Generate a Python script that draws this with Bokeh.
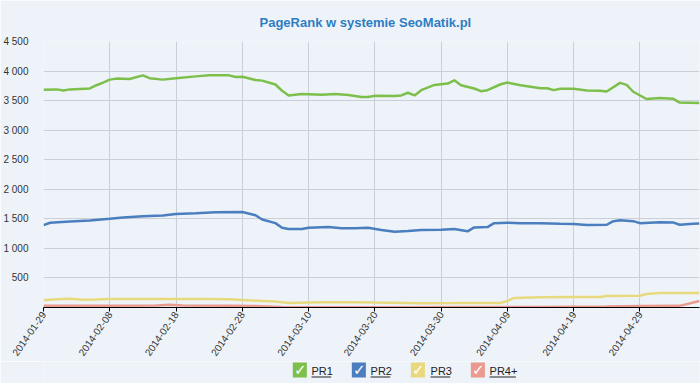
import math
import pandas as pd
from bokeh.plotting import figure
from bokeh.layouts import column
from bokeh.models import FixedTicker, DatetimeTickFormatter, Range1d
from bokeh.core.properties import value
from bokeh.embed import file_html
from bokeh.resources import INLINE

# ---------------- data ----------------
start_date = "2014-01-29"
end_day = 99

pr1_days = [0, 2, 3, 4, 7, 8, 9, 10, 11, 13, 15, 16, 18, 20, 23, 25, 28, 29, 30, 32,
            33, 35, 36, 37, 39, 42, 44, 46, 48, 49, 50, 53, 54, 55, 56, 57, 59, 61, 62, 63,
            65, 66, 67, 69, 70, 72, 75, 76, 77, 78, 80, 82, 84, 85, 87, 88, 89, 91, 93, 95,
            96, 99]
pr1_vals = [3683, 3690, 3672, 3690, 3705, 3760, 3805, 3855, 3872, 3866, 3927, 3880, 3855,
            3877, 3910, 3927, 3927, 3900, 3905, 3850, 3838, 3772, 3667, 3588, 3611, 3600,
            3611, 3594, 3561, 3561, 3583, 3577, 3588, 3633, 3588, 3677, 3766, 3788, 3844,
            3760, 3705, 3660, 3677, 3777, 3805, 3760, 3710, 3710, 3677, 3700, 3700, 3672,
            3667, 3655, 3800, 3766, 3650, 3527, 3544, 3533, 3466, 3460]

pr2_days = [0, 1, 4, 7, 10, 12, 15, 18, 20, 23, 26, 30, 32, 33, 35, 36, 37, 39, 40, 43,
            45, 47, 49, 51, 53, 55, 57, 60, 62, 64, 65, 67, 68, 70, 72, 75, 78, 80, 82, 85,
            86, 87, 89, 90, 93, 95, 96, 98, 99]
pr2_vals = [1394, 1433, 1455, 1472, 1500, 1522, 1544, 1555, 1583, 1594, 1611, 1616, 1561,
            1489, 1427, 1350, 1327, 1327, 1350, 1361, 1339, 1339, 1350, 1311, 1283, 1294,
            1311, 1316, 1327, 1289, 1355, 1361, 1427, 1433, 1427, 1427, 1416, 1411, 1394,
            1400, 1461, 1477, 1461, 1427, 1444, 1439, 1400, 1416, 1422]

pr3_days = [0, 2, 4, 6, 8, 10, 15, 20, 25, 28, 30, 33, 35, 37, 40, 42, 47, 50, 57, 62,
            66, 69, 70, 71, 75, 80, 84, 85, 90, 91, 93, 99]
pr3_vals = [122, 140, 150, 130, 135, 144, 144, 144, 144, 140, 128, 111, 100, 78, 85, 89,
            89, 83, 72, 75, 78, 78, 111, 161, 172, 178, 178, 194, 200, 228, 244, 244]

pr4_days = [0, 10, 17, 19, 21, 28, 32, 36, 45, 55, 65, 75, 85, 90, 96, 99]
pr4_vals = [30, 30, 35, 45, 35, 30, 25, 10, 5, 5, 8, 10, 15, 25, 28, 110]

series_names = ["PR1", "PR2", "PR3", "PR4+"]
series_colors = ["#7cbf4b", "#4a7ebf", "#e9d97e", "#ea9a8e"]

x_tick_dates = ["2014-01-29", "2014-02-08", "2014-02-18", "2014-02-28", "2014-03-10",
                "2014-03-20", "2014-03-30", "2014-04-09", "2014-04-19", "2014-04-29"]
y_ticks = [500, 1000, 1500, 2000, 2500, 3000, 3500, 4000, 4500]
y_tick_labels = ["500", "1 000", "1 500", "2 000", "2 500", "3 000", "3 500", "4 000", "4 500"]

title_text = "PageRank w systemie SeoMatik.pl"

# ---------------- main figure ----------------
BG = "#eef3f9"
W = 700
MAIN_H = 361
LEG_H = 22
t0 = pd.Timestamp(start_date)


def to_dates(days):
    return [t0 + pd.Timedelta(days=d) for d in days]


p = figure(width=W, height=MAIN_H, output_backend="svg", toolbar_location=None,
           x_axis_type="datetime",
           x_range=Range1d(t0, t0 + pd.Timedelta(days=end_day)),
           y_range=Range1d(0, 4500),
           background_fill_color=BG, border_fill_color=BG,
           min_border_left=39, min_border_right=1, min_border_top=38,
           min_border_bottom=53)
p.outline_line_color = None

p.title.text = title_text
p.title.align = "left"
p.title.offset = 216
p.title.text_font = "Liberation Sans"
p.title.text_font_size = "13px"
p.title.text_font_style = "bold"
p.title.text_color = "#2e7dc3"
p.title.standoff = 24

all_days = [pr1_days, pr2_days, pr3_days, pr4_days]
all_vals = [pr1_vals, pr2_vals, pr3_vals, pr4_vals]
for days, vals, col in zip(all_days, all_vals, series_colors):
    p.line(to_dates(days), vals, line_color=col, line_width=2.5)

# axes
tick_ms = [pd.Timestamp(s).value // 10**6 for s in x_tick_dates]
xticker = FixedTicker(ticks=tick_ms)
p.xaxis.ticker = xticker
p.xgrid.ticker = xticker
p.xaxis.formatter = DatetimeTickFormatter(days="%Y-%m-%d", months="%Y-%m-%d",
                                          hours="%Y-%m-%d", years="%Y-%m-%d")
p.xaxis.major_label_orientation = math.radians(55)
p.xaxis.axis_line_color = "black"
p.xaxis.major_tick_line_color = "black"
p.xaxis.major_tick_out = 4
p.xaxis.major_tick_in = 0
p.xaxis.minor_tick_line_color = None
p.xaxis.major_label_text_font = "Liberation Sans"
p.xaxis.major_label_text_font_size = "10px"
p.xaxis.major_label_text_color = "#333333"
p.xaxis.major_label_standoff = 1

p.yaxis.ticker = FixedTicker(ticks=y_ticks)
p.ygrid.ticker = FixedTicker(ticks=y_ticks)
p.yaxis.major_label_overrides = {v: s for v, s in zip(y_ticks, y_tick_labels)}
p.yaxis.axis_line_color = None
p.yaxis.major_tick_line_color = None
p.yaxis.minor_tick_line_color = None
p.yaxis.major_label_text_font = "Liberation Sans"
p.yaxis.major_label_text_font_size = "10px"
p.yaxis.major_label_text_color = "#333333"
p.yaxis.major_label_standoff = 9

for g in (p.xgrid, p.ygrid):
    g.grid_line_color = "#c9ced7"
    g.grid_line_width = 1

# ---------------- legend strip (pixel coordinates) ----------------
leg = figure(width=W, height=LEG_H, output_backend="svg", toolbar_location=None,
             x_range=Range1d(0, W), y_range=Range1d(0, LEG_H),
             x_axis_type=None, y_axis_type=None,
             background_fill_color=BG, border_fill_color=BG,
             min_border_left=0, min_border_right=0, min_border_top=0,
             min_border_bottom=0)
leg.outline_line_color = None

box_left = [266, 329, 392, 456]
text_left = [286, 349, 413, 476]
text_width = [21, 21, 21, 28]
box_size = 15
box_top = LEG_H - 1
box_bottom = box_top - box_size
box_right = [b + box_size for b in box_left]
leg.quad(left=box_left, right=box_right, top=box_top, bottom=box_bottom,
         fill_color=series_colors, line_color=None)
leg.text(x=[b + box_size / 2 + 0.5 for b in box_left], y=[(box_top + box_bottom) / 2] * 4,
         text=["\u2713"] * 4, text_color="white", text_font=value("DejaVu Sans"),
         text_font_style="bold", text_font_size="15px", text_align="center",
         text_baseline="middle")
leg.text(x=text_left, y=[13] * 4, text=series_names, text_color="#222222",
         text_font=value("Liberation Sans"), text_font_size="11px",
         text_align="left", text_baseline="middle")
leg.segment(x0=text_left, x1=[t + w for t, w in zip(text_left, text_width)],
            y0=[6.5] * 4, y1=[6.5] * 4, line_color="#222222", line_width=1)

layout = column(p, leg, spacing=0)
open("out.html", "w").write(file_html(layout, INLINE))
